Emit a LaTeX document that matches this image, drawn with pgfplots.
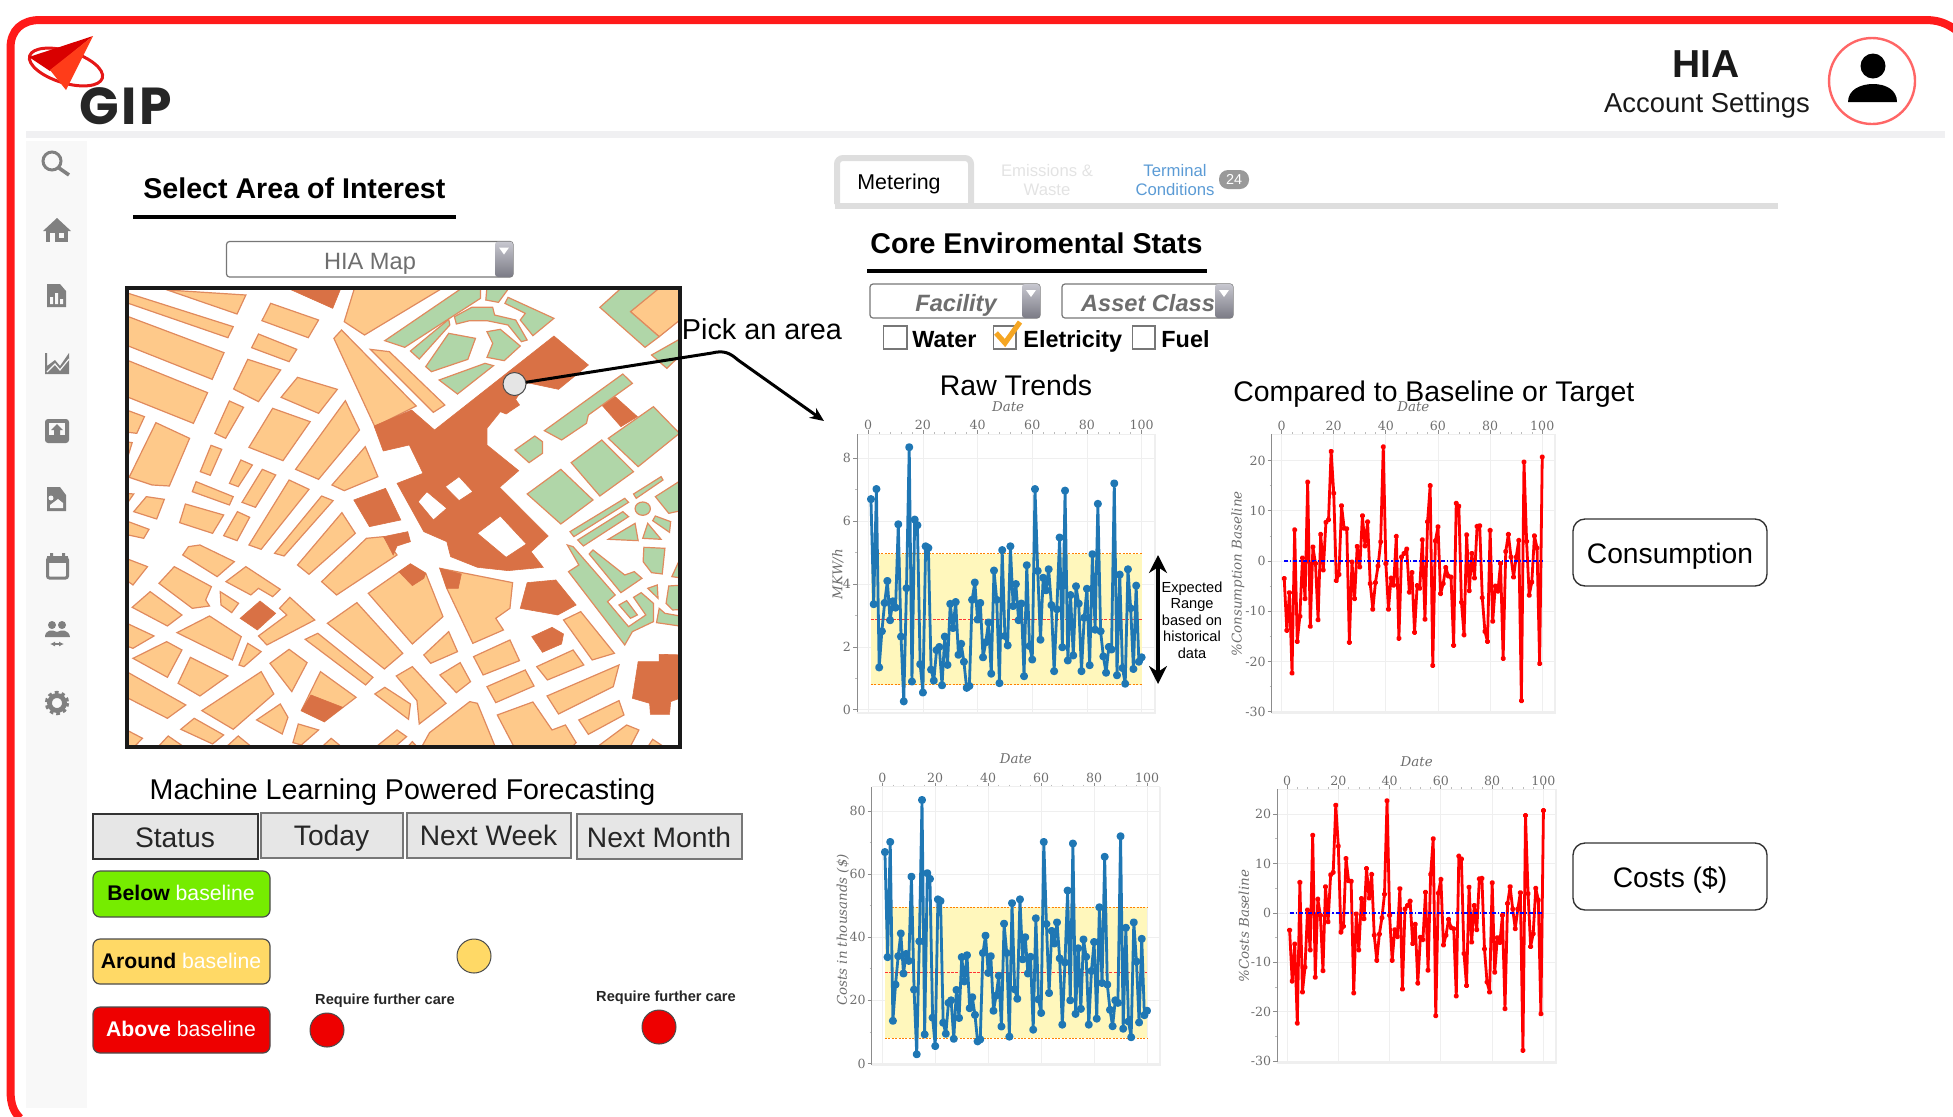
\documentclass[border=0pt]{standalone}
\usepackage{fontspec}
\setmainfont{Liberation Sans}
\newfontfamily\poppins{Poppins}[LetterSpace=5]
\newfontfamily\axfont{DejaVu Serif}
\usepackage{pgfplots}
\usepackage{pgfplotstable}
\pgfplotsset{compat=1.18}
\usetikzlibrary{arrows.meta}

\definecolor{redframe}{HTML}{FF1A1A}
\definecolor{barc}{HTML}{F0F0F2}
\definecolor{sidec}{HTML}{F8F8F8}
\definecolor{iconc}{HTML}{808080}
\definecolor{mapo}{HTML}{FEC98A}
\definecolor{mapg}{HTML}{B0D6A8}
\definecolor{mapd}{HTML}{D97145}
\definecolor{mapl}{HTML}{E08A5E}
\definecolor{tabc}{HTML}{DEDEDE}
\definecolor{fadec}{HTML}{E3E3E3}
\definecolor{linkc}{HTML}{5B9BD5}
\definecolor{dgray}{HTML}{777777}
\definecolor{gridc}{HTML}{EFEFEF}
\definecolor{axisc}{HTML}{8C8C8C}
\definecolor{minorc}{HTML}{BBBBBB}
\definecolor{tickc}{HTML}{6E6E6E}
\definecolor{bandc}{HTML}{FFF7BC}
\definecolor{trendc}{HTML}{1F77B4}
\definecolor{okc}{HTML}{76EC00}
\definecolor{midc}{HTML}{FFD966}
\definecolor{badc}{HTML}{EE0000}
\definecolor{boxc}{HTML}{E6E6E6}
\definecolor{checkc}{HTML}{F5A623}

\newcommand\fz[1]{\fontsize{#1}{#1}\selectfont}
\newcommand\tc[4]{\node[anchor=base,inner sep=0pt] at (#2,#3) {#1#4};}
\newcommand\tl[4]{\node[anchor=base west,inner sep=0pt] at (#2,#3) {#1#4};}
\newcommand\poly[2]{\draw[#1] plot[sharp plot] coordinates {#2} -- cycle;}
\newcommand\dropdown[4]{%
  \draw[draw=dgray,line width=.6pt,fill=white,rounded corners=1.5pt] (#1,#2) rectangle (#3,#4);
  \shade[top color=black!20!blue!10!gray!40,bottom color=black!70!blue!15!gray!90,rounded corners=1.5pt] (#3-18,#2) rectangle (#3,#4);
  \fill[white] (#3-14,#2+6) -- (#3-4,#2+6) -- (#3-9,#2+13) -- cycle;
}

\pgfplotstableread{
day mkwh cost pct
1 6.70 67.0 -3.5
2 3.36 33.7 -13.8
3 7.02 70.2 -6.3
4 1.35 13.5 -22.3
5 2.50 25.0 6.2
6 3.40 34.0 -16.0
7 4.10 41.2 -11.0
8 2.85 28.5 0.6
9 3.45 34.7 -7.5
10 3.25 32.5 15.7
11 5.90 59.2 -13.0
12 2.33 23.4 2.8
13 0.27 2.9 -0.5
14 3.87 38.7 -11.7
15 8.35 83.5 5.3
16 0.90 9.2 -1.8
17 6.05 60.3 7.7
18 5.87 58.5 8.2
19 1.45 14.5 21.8
20 0.55 5.5 13.5
21 5.20 52.0 -3.9
22 5.15 51.5 -2.7
23 1.28 12.9 11.0
24 0.93 9.4 6.5
25 1.90 19.2 6.4
26 2.00 20.0 -16.2
27 0.78 7.8 -0.2
28 2.33 23.3 -7.5
29 1.43 14.4 2.9
30 3.37 33.7 -1.2
31 2.60 26.0 9.0
32 3.43 34.3 3.0
33 1.75 17.5 7.8
34 2.10 21.0 -4.5
35 1.53 15.4 -9.6
36 0.70 7.0 -4.3
37 0.76 7.6 -1.0
38 3.50 35.0 3.8
39 4.05 40.5 22.7
40 2.87 28.7 -0.5
41 3.40 34.0 -9.6
42 1.67 16.7 -3.4
43 2.15 21.5 -4.8
44 2.78 27.8 4.9
45 1.15 11.7 -15.4
46 4.43 44.3 0.8
47 3.50 35.0 1.5
48 0.85 8.5 2.4
49 5.08 50.8 -6.2
50 2.35 23.5 -2.3
51 2.05 20.5 -14.2
52 5.20 52.0 -4.9
53 3.30 33.0 -5.4
54 4.00 40.0 4.2
55 2.85 28.5 -11.6
56 3.38 33.8 7.8
57 1.07 10.7 15.0
58 4.60 46.0 -20.8
59 2.03 20.3 4.0
60 1.60 16.0 6.8
61 7.02 70.2 -6.5
62 4.42 44.2 -4.5
63 2.23 22.3 -1.3
64 4.20 42.0 -3.0
65 3.80 38.0 -3.2
66 4.47 44.7 -16.8
67 3.33 33.3 11.5
68 1.23 12.3 10.9
69 3.20 32.0 -8.2
70 5.48 54.8 -14.7
71 1.99 20.0 5.2
72 6.97 69.7 -5.9
73 1.57 15.7 1.5
74 3.65 36.5 -3.4
75 1.73 17.3 6.9
76 3.93 39.3 7.0
77 3.38 33.8 -7.3
78 1.23 12.3 -14.0
79 2.93 29.3 -16.0
80 3.85 38.5 6.1
81 1.42 14.2 -12.0
82 4.95 49.5 -5.0
83 2.55 25.5 -6.0
84 6.55 65.5 -0.5
85 2.50 25.0 -19.4
86 1.70 17.0 1.9
87 1.18 11.8 5.3
88 2.00 20.0 0.8
89 1.92 19.2 -3.2
90 7.20 72.0 0.8
91 1.10 11.0 4.1
92 4.30 43.0 -27.8
93 1.33 13.3 19.7
94 0.83 8.3 3.9
95 4.47 44.7 -6.8
96 3.23 32.3 -4.2
97 1.30 13.0 5.0
98 3.95 39.5 2.6
99 1.53 15.3 -20.4
100 1.67 16.7 20.7
}\trend

\pgfplotsset{
  panel/.style={
    scale only axis,
    axis x line*=top, axis y line*=left,
    axis line style={-,draw=axisc,line width=.5pt},
    x axis line style={draw=gridc},
    xmajorgrids, ymajorgrids,
    grid style={gridc,line width=.4pt},
    xtick={0,20,...,100},
    minor x tick num=4, minor y tick num=1,
    tick align=outside,
    major tick length=2pt, minor tick length=1pt,
    tick style={draw=axisc,line width=.4pt},
    minor tick style={draw=minorc,line width=.3pt},
    tick label style={font=\axfont\fz{6.3}, text=tickc},
    xticklabel style={yshift=-3.5pt},
    yticklabel style={xshift=2.5pt},
    /pgf/number format/assume math mode=true,
    label style={font=\axfont\itshape\fz{6.7}, text=tickc, anchor=center},
    xlabel=Date,
    after end axis/.code={
      \draw[gridc,line width=1pt] (rel axis cs:0,0) -- (rel axis cs:1,0) -- (rel axis cs:1,1);
    },
  },
  rawline/.style={trendc,line width=1.4pt,line join=round,mark=*,mark size=1.3pt,mark options={fill=trendc,draw=trendc}},
  pctline/.style={red,line width=1.4pt,line join=round,mark=*,mark size=.7pt,mark options={fill=red,draw=red}},
  zeroline/.style={blue,line width=.6pt,dash pattern=on 2pt off 1pt on .6pt off 1pt},
  bandedge/.style={orange,line width=.5pt,dash pattern=on 1pt off .7pt},
  bandmid/.style={red!80,line width=.5pt,dash pattern=on 1.5pt off .7pt},
}

\begin{document}
\begin{tikzpicture}[x=0.5pt,y=-0.5pt]
\path[use as bounding box] (0,0) rectangle (1953,1116);

% frame and header
\draw[redframe,line width=4pt] (10.5,1090) .. controls (10.5,1105) and (14,1112) .. (20,1118)
  (10.5,1090) -- (10.5,48) .. controls (10.5,30) and (22,20) .. (40,20) -- (1925,20) .. controls (1938,20) and (1946,23) .. (1956,30);
\fill[barc] (26,131) rectangle (1945,138);
\fill[sidec] (26,141) rectangle (87,1108);

% logo
\draw[redframe!90!black,line width=1.5pt,rotate around={-17:(66,67)}] (66,67) ellipse [x radius=38,y radius=16];
\fill[red!85!black] (29,57) -- (93,36) -- (50,71) -- cycle;
\fill[orange!30!red!90!white] (93,36) -- (66,90) -- (50,70) -- cycle;
\tl{\poppins\bfseries\fz{26}\color{black!85}}{79}{124}{GIP}

% account
\tc{\bfseries\fz{19.5}\color{black!90}}{1706}{77}{HIA}
\tc{\fz{13.7}\color{black!90}}{1707}{112}{Account Settings}
\draw[red!60,line width=1.2pt,fill=white] (1872,81) circle (43);
\fill[black] (1873,66) circle (12.5);
\fill[black] (1848,102) .. controls (1848,90) and (1860,84) .. (1873,84) .. controls (1886,84) and (1897,90) .. (1897,102) -- cycle;

% sidebar icons
\draw[iconc,line width=1.5pt] (52,161) circle (9);
\draw[iconc,line width=1.8pt] (59,168) -- (69,175);
\fill[iconc] (57,218) -- (71,231) -- (43,231) -- cycle;
\fill[iconc] (46,230) rectangle (68,242);
\fill[sidec] (50,233) rectangle (55,242);
\fill[sidec] (59,233) rectangle (64,238);
\fill[iconc] (47,284) -- (60,284) -- (66,291) -- (66,307) -- (47,307) -- cycle;
\fill[sidec] (50,297) rectangle (53,304) (55,293) rectangle (58,304) (60,299) rectangle (63,304);
\fill[iconc] (45,353) -- (47,353) -- (47,366) -- (55,360) -- (60,366) -- (69,353) -- (69,374) -- (45,374) -- cycle;
\draw[sidec,line width=.6pt] (47,372) -- (55,364) -- (60,370) -- (69,359);
\fill[iconc,rounded corners=1.5pt] (45,419) rectangle (69,443);
\fill[sidec] (49,423) rectangle (65,435);
\fill[iconc] (57,424) -- (63,430) -- (60,430) -- (60,435) -- (54,435) -- (54,430) -- (51,430) -- cycle;
\fill[iconc] (47,487) -- (60,487) -- (66,495) -- (66,511) -- (47,511) -- cycle;
\fill[sidec] (50,508) -- (50,505) -- (58,499) -- (63,503) -- (63,508) -- cycle;
\fill[sidec] (51,498) circle (2.5);
\draw[iconc,line width=1.5pt,fill=sidec,rounded corners=1pt] (47.5,558) rectangle (67.5,578);
\fill[iconc] (47,556) rectangle (68,563);
\fill[iconc] (50,553) rectangle (53,557) (62,553) rectangle (65,557);
\fill[iconc] (52,625) circle (4) (62,625) circle (4);
\fill[iconc] (45,637) .. controls (45,630) and (52,629) .. (57,632) .. controls (62,629) and (69,630) .. (70,637) -- cycle;
\draw[iconc,line width=.7pt,{Latex[length=2.5pt,width=2.5pt]}-{Latex[length=2.5pt,width=2.5pt]}] (50,644) -- (64,644);
\draw[iconc,line width=2.2pt,dash pattern=on 1.7pt off 1.5pt] (57,703) circle (10);
\draw[iconc,line width=2.4pt] (57,703) circle (7.5);

% left panel titles
\tl{\bfseries\fz{14.3}}{143}{198}{Select Area of Interest}
\draw[line width=2pt] (133,217) -- (456,217);
\dropdown{226.5}{241.5}{513}{277}
\tc{\fz{11.8}\color{tickc}}{370}{269}{HIA Map}

% map, in units of a zoomed crop
\begin{scope}[shift={(110,270)},xscale=0.3827,yscale=0.3333]
\begin{scope}
\clip (44,54) rectangle (1490,1430);
\tikzset{o/.style={fill=mapo,draw=mapl,line width=.6pt},
         g/.style={fill=mapg,draw=mapl,line width=.6pt},
         d/.style={fill=mapd,draw=mapd,line width=.3pt}}
\poly{o}{(150,60)(355,75)(332,132)}
\poly{o}{(48,70)(322,170)(308,203)(48,100)}
\poly{o}{(48,140)(298,248)(267,328)(48,228)}
\poly{o}{(48,272)(255,368)(218,460)(48,382)}
\poly{o}{(420,100)(545,150)(518,203)(397,152)}
\poly{o}{(388,192)(488,238)(468,275)(370,233)}
\poly{o}{(360,268)(446,300)(388,395)(323,357)}
\poly{o}{(490,322)(594,358)(545,430)(447,382)}
\poly{o}{(425,415)(523,455)(452,572)(363,532)}
\poly{o}{(312,393)(349,412)(302,505)(274,490)}
\poly{o}{(48,422)(90,440)(70,490)(48,487)}
\poly{o}{(120,458)(208,505)(155,648)(110,645)(50,622)}
\poly{o}{(264,526)(292,538)(262,616)(236,605)}
\poly{o}{(342,570)(372,585)(335,650)(312,640)}
\poly{o}{(398,598)(433,615)(380,712)(345,697)}
\poly{o}{(468,630)(520,658)(395,838)(363,825)}
\poly{o}{(553,678)(583,692)(455,858)(430,850)}
\poly{o}{(606,728)(641,790)(520,913)(490,885)}
\poly{o}{(615,392)(652,480)(545,628)(485,598)}
\poly{o}{(667,530)(700,620)(612,662)(580,645)}
\poly{o}{(605,180)(800,408)(692,470)(585,205)}
\poly{o}{(680,238)(730,245)(875,405)(845,427)}
\poly{o}{(640,50)(875,50)(665,195)(612,155)}
\poly{o}{(225,635)(322,680)(312,705)(215,665)}
\poly{o}{(95,680)(142,688)(122,747)(62,725)}
\poly{o}{(197,702)(297,735)(268,790)(182,758)}
\poly{o}{(333,725)(365,742)(332,812)(297,797)}
\poly{o}{(48,755)(102,778)(88,805)(48,795)}
\poly{o}{(205,830)(235,825)(325,875)(280,920)(190,855)}
\poly{o}{(48,868)(98,890)(60,945)(48,935)}
\poly{o}{(168,890)(265,950)(250,990)(260,1008)(215,1015)(128,940)}
\poly{o}{(355,890)(445,958)(425,980)(388,955)(368,975)(303,935)}
\poly{o}{(288,965)(336,1000)(318,1028)(290,1005)}
\poly{o}{(470,982)(535,1050)(410,1125)(388,1098)(462,1035)(443,1015)}
\poly{o}{(105,965)(188,1035)(150,1068)(58,1012)}
\poly{o}{(260,1038)(343,1100)(320,1170)(175,1088)}
\poly{o}{(48,1062)(115,1098)(60,1135)(48,1130)}
\poly{o}{(148,1115)(188,1140)(150,1222)(60,1165)}
\poly{o}{(210,1162)(308,1218)(235,1278)(178,1240)}
\poly{o}{(48,1208)(198,1305)(150,1345)(48,1285)}
\poly{o}{(395,1205)(428,1272)(322,1378)(240,1322)}
\poly{o}{(360,1120)(395,1145)(350,1190)(337,1185)}
\poly{o}{(468,1138)(515,1178)(475,1265)(418,1180)}
\poly{o}{(543,1090)(687,1222)(668,1245)(510,1108)}
\poly{o}{(645,998)(765,1150)(717,1197)(568,1060)}
\poly{o}{(675,970)(785,882)(825,910)(870,1040)(790,1122)}
\poly{o}{(670,805)(715,800)(750,855)(592,975)(553,935)}
\poly{o}{(862,895)(1052,938)(1045,1015)(1008,1045)(1028,1080)(948,1120)(880,955)}
\poly{o}{(1230,1025)(1318,1150)(1260,1170)(1185,1050)}
\poly{o}{(1045,1110)(1070,1172)(975,1215)(950,1160)}
\poly{o}{(1210,1140)(1238,1185)(1143,1230)(1115,1190)}
\poly{o}{(1085,1200)(1108,1248)(1008,1298)(985,1250)}
\poly{o}{(1330,1185)(1315,1250)(1172,1332)(1142,1278)}
\poly{o}{(1330,1292)(1343,1335)(1250,1393)(1225,1350)}
\poly{o}{(1105,1296)(1155,1380)(1190,1365)(1218,1418)(1200,1440)(1060,1440)(1012,1335)}
\poly{o}{(885,1085)(908,1145)(838,1180)(820,1155)}
\poly{o}{(915,1178)(942,1235)(905,1268)(862,1215)}
\poly{o}{(790,1190)(878,1300)(808,1362)(802,1292)(748,1218)}
\poly{o}{(718,1252)(785,1302)(780,1348)(692,1272)}
\poly{o}{(940,1295)(960,1300)(1010,1440)(810,1440)(835,1388)}
\poly{o}{(550,1205)(643,1282)(560,1355)(500,1322)}
\poly{o}{(445,1302)(465,1342)(450,1392)(383,1350)}
\poly{o}{(220,1345)(297,1395)(268,1422)(185,1378)}
\poly{o}{(492,1362)(545,1380)(500,1425)(478,1418)}
\poly{o}{(40,1378)(85,1405)(55,1440)(40,1440)}
\poly{o}{(152,1398)(205,1440)(118,1440)}
\poly{o}{(335,1398)(380,1440)(295,1440)}
\poly{o}{(578,1405)(615,1440)(545,1440)}
\poly{o}{(750,1380)(775,1400)(735,1440)(685,1440)}
\poly{o}{(1350,1365)(1382,1380)(1355,1440)(1262,1440)}
\poly{o}{(1418,1408)(1460,1440)(1400,1440)}
\poly{o}{(790,1415)(810,1440)(770,1440)}
\poly{o}{(1360,125)(1435,50)(1500,50)(1500,140)(1435,200)}
\poly{o}{(40,515)(58,518)(48,555)(40,555)}
\poly{o}{(40,670)(62,672)(48,695)(40,695)}
% dark blocks
\draw[d,even odd rule] plot[sharp plot] coordinates {(690,468)(788,420)(848,480)(1160,198)(1250,285)(1172,358)(1090,338)(1060,388)(1070,405)(1035,432)(1020,425)(985,475)(985,525)(1068,602)(1018,652)(1145,798)(1100,845)(1132,892)(1040,902)(960,892)(890,860)(880,815)(820,785)(750,640)(818,610)(782,525)(714,543)} -- cycle
  plot[sharp plot] coordinates {(828,665)(880,715)(845,750)(805,695)} -- cycle
  plot[sharp plot] coordinates {(912,620)(948,665)(912,692)(876,650)} -- cycle
  plot[sharp plot] coordinates {(1020,738)(1088,822)(1035,862)(960,790)} -- cycle;
\poly{d}{(455,50)(605,50)(582,115)}
\poly{d}{(720,655)(760,750)(678,770)(637,690)}
\poly{d}{(715,800)(778,785)(785,815)(750,828)(740,855)}
\poly{d}{(785,882)(825,910)(820,925)(790,947)(755,905)}
\poly{d}{(862,895)(918,912)(910,955)(880,955)}
\poly{d}{(1090,938)(1165,930)(1218,1005)(1170,1035)(1072,1015)}
\poly{d}{(392,993)(433,1030)(385,1080)(340,1045)}
\poly{d}{(1155,1072)(1185,1092)(1180,1122)(1130,1147)(1102,1100)}
\poly{d}{(1380,1175)(1435,1175)(1435,1153)(1500,1155)(1500,1280)(1465,1295)(1462,1333)(1412,1333)(1410,1300)(1365,1285)}
\poly{d}{(525,1275)(608,1312)(560,1355)(500,1322)}
\poly{d}{(1320,380)(1378,440)(1335,470)(1285,405)}
% parks
\poly{g}{(925,50)(968,50)(968,85)(770,232)(718,212)}
\poly{g}{(985,50)(1045,50)(1015,97)(982,90)}
\poly{g}{(1040,82)(1160,145)(1105,197)(1072,150)(1085,130)(1032,100)}
\poly{g}{(885,148)(888,165)(808,267)(785,243)}
\poly{g}{(900,140)(945,112)(1000,112)(1005,135)(1060,150)(1090,210)(1075,215)(1040,165)(985,152)(940,152)(905,162)}
\poly{g}{(885,190)(955,205)(935,268)(840,305)(825,290)}
\poly{g}{(985,185)(1020,178)(1072,228)(1030,272)(985,262)(1000,220)}
\poly{g}{(980,280)(1002,287)(908,372)(860,330)}
\poly{g}{(1340,312)(1365,340)(1250,435)(1245,460)(1180,510)(1135,482)}
\poly{g}{(1110,498)(1130,515)(1130,550)(1095,578)(1058,540)}
\poly{g}{(1420,410)(1488,490)(1380,590)(1302,505)}
\poly{g}{(1285,510)(1368,605)(1280,678)(1205,578)}
\poly{g}{(1178,598)(1262,690)(1178,762)(1090,672)}
\poly{g}{(1340,50)(1440,50)(1360,125)(1435,200)(1398,232)(1280,112)}
\poly{g}{(1500,200)(1500,245)(1455,295)(1415,255)}
\poly{g}{(1440,620)(1445,630)(1375,685)(1368,672)}
\poly{g}{(1345,685)(1355,697)(1212,800)(1202,785)}
\poly{g}{(1340,725)(1355,740)(1237,828)(1222,810)}
\poly{g}{(1500,625)(1500,720)(1460,730)(1425,680)}
\draw[g] (1392,716) ellipse [x radius=20,y radius=20];
\poly{g}{(1372,760)(1380,812)(1302,808)}
\poly{g}{(1405,760)(1440,808)(1392,805)}
\poly{g}{(1425,738)(1465,755)(1462,787)(1418,752)}
\poly{g}{(1395,832)(1450,835)(1443,912)(1415,908)(1393,875)}
\poly{g}{(1262,840)(1345,915)(1370,905)(1390,925)(1335,968)(1252,852)}
\poly{g}{(1195,825)(1225,885)(1198,905)(1345,1125)(1365,1085)(1420,1055)(1420,1000)(1388,968)(1368,982)(1400,1035)(1355,1070)(1300,995)(1320,975)(1210,830)}
\poly{g}{(1350,992)(1378,1035)(1360,1045)(1330,1005)}
\poly{g}{(1430,945)(1432,985)(1405,955)}
\poly{g}{(1500,945)(1460,948)(1453,1000)(1470,1020)(1500,1018)}
\poly{g}{(1435,1015)(1450,1030)(1500,1040)(1500,1070)(1428,1058)}
\poly{g}{(1500,840)(1500,925)(1468,920)}
\end{scope}
\draw[black!90,line width=2pt] (45,55) rectangle (1490,1430);
\end{scope}

% pick an area callout
\draw[black,line width=1.5pt,-{Stealth[length=7pt,width=6pt]}] (515,384) -- (712,353) .. controls (724,350) and (730,353) .. (738,360) -- (824,421);
\draw[black!70,line width=.5pt,fill=black!10] (514.5,384) circle (11.5);
\tc{\fz{14.4}}{762}{339}{Pick an area}

% forecasting panel
\tc{\fz{14.3}}{402.5}{799}{Machine Learning Powered Forecasting}
\draw[black!80,line width=.8pt,fill=boxc] (93,814) rectangle (258,859);
\draw[dgray,line width=.8pt,fill=boxc] (261,813) rectangle (403,858);
\draw[dgray,line width=.8pt,fill=boxc] (407,813) rectangle (571,858);
\draw[dgray,line width=.8pt,fill=boxc] (577,814) rectangle (742,859);
\tc{\fz{14.1}\color{black!85}}{175}{847}{Status}
\tc{\fz{14.1}\color{black!85}}{331.5}{845}{Today}
\tc{\fz{14.1}\color{black!85}}{488.5}{845}{Next Week}
\tc{\fz{14.1}\color{black!85}}{659}{847}{Next Month}
\draw[black!70,line width=.6pt,fill=okc,rounded corners=3.5pt] (93,871) rectangle (270,917);
\draw[black!70,line width=.6pt,fill=midc,rounded corners=3.5pt] (93,939) rectangle (270,984);
\draw[black!70,line width=.6pt,fill=badc,rounded corners=3.5pt] (93,1007) rectangle (270,1053);
\tc{\fz{10.6}}{181}{900}{\textbf{Below} \textcolor{white}{baseline}}
\tc{\fz{10.6}}{181}{968}{\textbf{Around} \textcolor{white}{baseline}}
\tc{\fz{10.6}\color{white}}{181}{1036}{\textbf{Above} baseline}
\draw[black!70,line width=.5pt,fill=midc] (474,956) circle (17);
\draw[black!70,line width=.5pt,fill=badc] (327,1030) circle (17);
\draw[black!70,line width=.5pt,fill=badc] (659,1027) circle (17);
\tc{\bfseries\fz{7.3}\color{black!85}}{385}{1004}{Require further care}
\tc{\bfseries\fz{7.3}\color{black!85}}{666}{1001}{Require further care}

% tabs
\draw[tabc,line width=3pt,rounded corners=3pt] (837,204) -- (837,158) -- (971,158) -- (971,204);
\fill[tabc] (835,203) rectangle (1778,209);
\tc{\fz{10.7}}{899}{189}{Metering}
\tc{\fz{8.35}\color{fadec}}{1047}{176}{Emissions \&}
\tc{\fz{8.35}\color{fadec}}{1047}{195}{Waste}
\tc{\fz{8.35}\color{linkc}}{1175}{176}{Terminal}
\tc{\fz{8.35}\color{linkc}}{1175}{195}{Conditions}
\fill[black!40,rounded corners=4.5pt] (1219,170) rectangle (1249,189);
\tc{\fz{7.2}\color{white}}{1234}{184}{24}

% core stats header
\tl{\bfseries\fz{14.3}}{870}{253}{Core Enviromental Stats}
\draw[line width=2pt] (867,271) -- (1207,271);
\dropdown{870}{284}{1040}{318}
\dropdown{1062}{284}{1233}{318}
\tc{\bfseries\itshape\fz{11.8}\color{tickc}}{956}{311}{Facility}
\tc{\bfseries\itshape\fz{11.8}\color{tickc}}{1148}{311}{Asset Class}
\draw[dgray,line width=.7pt] (883.5,326) rectangle (907,349) (993.5,326) rectangle (1016,349) (1132.5,326) rectangle (1155,349);
\tl{\bfseries\fz{11.7}}{912}{347}{Water}
\tl{\bfseries\fz{11.7}}{1023}{347}{Eletricity}
\tl{\bfseries\fz{11.7}}{1161}{347}{Fuel}
\draw[checkc,line width=2.6pt] (996,333) -- (1005,343) -- (1020,322);

% chart titles
\tc{\fz{14.2}}{1016}{395}{Raw Trends}
\tl{\fz{14.2}}{1233}{401}{Compared to Baseline or Target}

% raw trends, MKW/h
\begin{axis}[panel, at={(428.5pt,-356.5pt)}, anchor=south west,
    width=149pt, height=139.5pt,
    xmin=-4.1, xmax=104.9, ymin=-0.1, ymax=8.77,
    ytick={0,2,4,6,8},
    xlabel style={at={(axis description cs:0.507,1.097)}},
    ylabel style={at={(axis description cs:-0.064,0.498)}},
    ylabel={MKW/h}]
\addplot[fill=bandc,draw=none] coordinates {(1,0.8)(100,0.8)(100,4.97)(1,4.97)} -- cycle;
\addplot[bandedge] coordinates {(1,0.8)(100,0.8)};
\addplot[bandedge] coordinates {(1,4.97)(100,4.97)};
\addplot[bandmid] coordinates {(1,2.88)(100,2.88)};
\addplot[rawline] table[x=day,y=mkwh] {\trend};
\end{axis}

% compared to baseline, consumption
\begin{axis}[panel, at={(635.85pt,-356.65pt)}, anchor=south west,
    width=141.65pt, height=139.5pt,
    xmin=-3.8, xmax=104.9, ymin=-30.3, ymax=25.2,
    ytick={-30,-20,...,20},
    xlabel style={at={(axis description cs:0.5,1.098)}},
    ylabel style={at={(axis description cs:-0.119,0.5)}},
    ylabel={\%Consumption Baseline}]
\addplot[pctline] table[x=day,y=pct] {\trend};
\addplot[zeroline] coordinates {(1,0)(100,0)};
\end{axis}

% raw trends, costs
\begin{axis}[panel, at={(435.85pt,-532.5pt)}, anchor=south west,
    width=144.15pt, height=139.15pt,
    xmin=-4, xmax=104.9, ymin=-0.5, ymax=87.7,
    ytick={0,20,...,80},
    xlabel style={at={(axis description cs:0.5,1.1)}},
    ylabel style={at={(axis description cs:-0.1,0.485)}},
    ylabel={Costs in thousands (\$)}]
\addplot[fill=bandc,draw=none] coordinates {(1,8)(100,8)(100,49.5)(1,49.5)} -- cycle;
\addplot[bandedge] coordinates {(1,8)(100,8)};
\addplot[bandedge] coordinates {(1,49.5)(100,49.5)};
\addplot[bandmid] coordinates {(1,28.8)(100,28.8)};
\addplot[rawline] table[x=day,y=cost] {\trend};
\end{axis}

% compared to baseline, costs
\begin{axis}[panel, at={(638.65pt,-531.35pt)}, anchor=south west,
    width=139.35pt, height=136.7pt,
    xmin=-3.8, xmax=104.9, ymin=-30.3, ymax=25,
    ytick={-30,-20,...,20},
    xlabel style={at={(axis description cs:0.5,1.1)}},
    ylabel style={at={(axis description cs:-0.12,0.5)}},
    ylabel={\%Costs Baseline}]
\addplot[pctline] table[x=day,y=pct] {\trend};
\addplot[zeroline] coordinates {(1,0)(100,0)};
\end{axis}

% expected range note
\draw[black,line width=1.6pt,{Stealth[length=9pt,width=9pt]}-{Stealth[length=9pt,width=9pt]}] (1158,555) -- (1158,684);
\tc{\fz{7.3}}{1192}{592}{Expected}
\tc{\fz{7.3}}{1192}{608}{Range}
\tc{\fz{7.3}}{1192}{625}{based on}
\tc{\fz{7.3}}{1192}{641}{historical}
\tc{\fz{7.3}}{1192}{658}{data}

% side buttons
\draw[black!80,line width=.7pt,rounded corners=6pt] (1573,519) rectangle (1767,586);
\draw[black!80,line width=.7pt,rounded corners=6pt] (1573,843) rectangle (1767,910);
\tc{\fz{14.1}}{1670}{563}{Consumption}
\tc{\fz{14.1}}{1670}{887}{Costs (\$)}
\end{tikzpicture}
\end{document}
